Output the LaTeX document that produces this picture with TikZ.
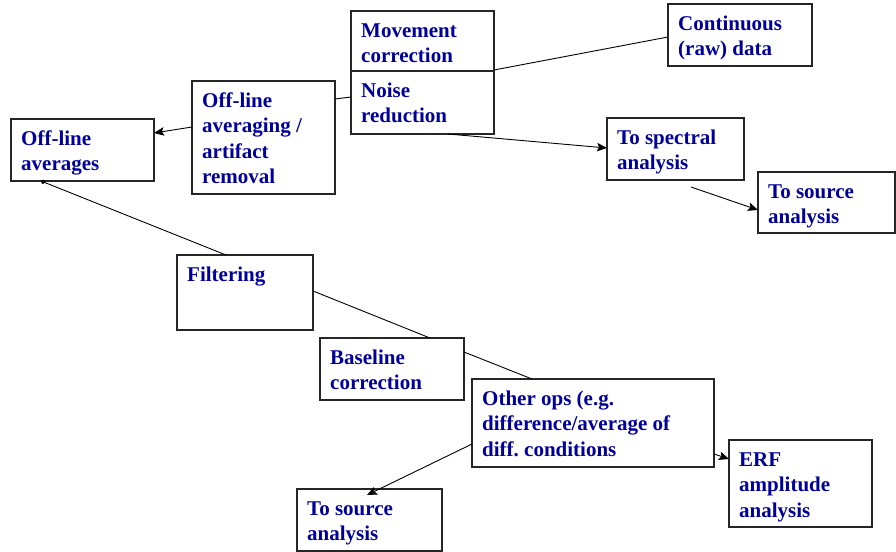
\documentclass[tikz,border=0pt]{standalone}
\usepackage{fontspec}
\setmainfont{Liberation Serif}
\usetikzlibrary{arrows.meta}
\definecolor{labelblue}{RGB}{0,0,153}
\frenchspacing

% A process box given by its corners, with its caption set at the top left
\newcommand{\procbox}[6]{%
  \node[procframe, anchor=north west,
        minimum width={(#4-#2)*1pt}, minimum height={(#5-#3)*1pt}] (#1) at (#2,#3) {};
  \node[proctext, anchor=north west] (#1-t)
        at ([xshift=10pt,yshift=-8pt]#1.north west) {\strut #6};
}

\begin{document}
\begin{tikzpicture}[x=1pt,y=-1pt,
  procframe/.style={draw=black!85, line width=1.2pt, inner sep=0pt, outer sep=0pt},
  proctext/.style={font=\fontsize{21}{25.5}\selectfont\bfseries, text=labelblue,
                   align=left, inner sep=0pt},
  conn/.style={draw=black, line width=0.9pt},
  tip/.style={-{Stealth[length=10pt,width=8.5pt,inset=2pt]}}]
\useasboundingbox (0,0) rectangle (896,551);

% boxes
\procbox{oa}{11}{119}{154}{181}{Off-line\\averages}
\procbox{oar}{192}{81}{335}{194}{Off-line\\averaging /\\artifact\\removal}
\procbox{mov}{351}{11}{494}{71}{Movement\\correction}
\procbox{noise}{351}{71}{494}{134}{Noise\\reduction}
\procbox{cont}{668}{4}{812}{66}{Continuous\\(raw) data}
\procbox{spec}{607}{118}{744}{180}{To spectral\\analysis}
\procbox{srcA}{758}{172}{895}{233}{To source\\analysis}
\procbox{filt}{177}{255}{313}{330}{Filtering}
\procbox{base}{320}{338}{464}{400}{Baseline\\correction}
\procbox{other}{472}{379}{714}{467}{Other ops (e.g.\\difference/average of\\diff. conditions}
\procbox{erf}{729}{440}{872}{527}{ERF\\amplitude\\analysis}
\procbox{srcB}{297}{489}{442}{551}{To source\\analysis}

% connectors
\draw[conn, tip] ([yshift=10.5pt]oar.west) -- ([yshift=17pt]oa.east);
\draw[conn] ([yshift=38.5pt]oar.east) -- ([yshift=5.5pt]noise.west);
\draw[conn] ([yshift=1pt]mov.south east) -- ([yshift=-2pt]cont.west);
\draw[conn, tip] ([xshift=25.5pt]noise.south) -- ([yshift=1pt]spec.west);
\coordinate (specout) at ([xshift=15.5pt,yshift=-7pt]spec.south);
\draw[conn, tip] (specout) -- ([yshift=-7.5pt]srcA.west);
\draw[conn, -{Circle[length=4.5pt]}] ([xshift=-19pt]filt.north) -- ([xshift=-41.5pt]oa.south);
\draw[conn] ([yshift=1.5pt]filt.east) -- ([xshift=38pt]base.north);
\draw[conn] ([yshift=17pt]base.east) -- ([xshift=-61pt]other.north);
\draw[conn, tip] ([yshift=-21pt]other.west) -- ([xshift=-2.5pt,yshift=-6pt]srcB.north);
\draw[conn, tip] ([yshift=-31pt]other.east) -- ([yshift=24.5pt]erf.west);
\end{tikzpicture}
\end{document}
